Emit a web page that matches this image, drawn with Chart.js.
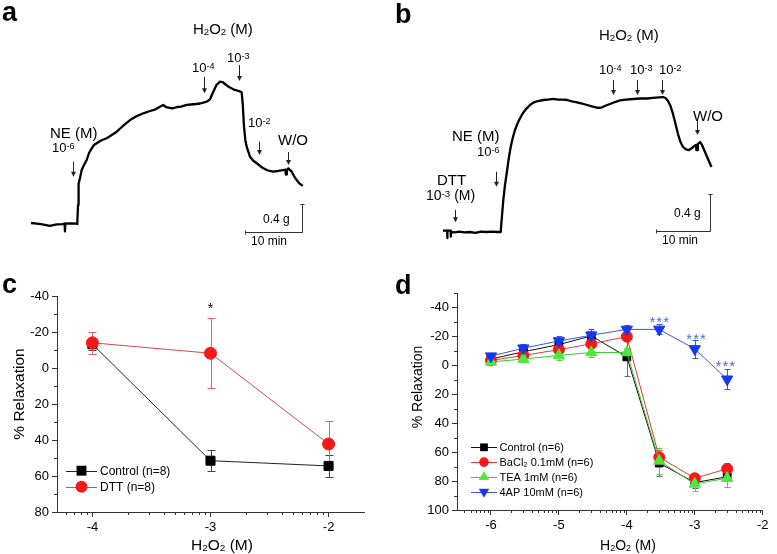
<!DOCTYPE html>
<html>
<head>
<meta charset="utf-8">
<title>H2O2 relaxation figure</title>
<script src="https://cdn.jsdelivr.net/npm/chart.js@4.4.1/dist/chart.umd.min.js"></script>
<style>
html,body{margin:0;padding:0;background:#fff;}
#fig{position:relative;width:777px;height:554px;overflow:hidden;background:#fff;font-family:"Liberation Sans",Arial,Helvetica,sans-serif;color:#000;}
canvas{position:absolute;display:block;}
.tx{position:absolute;white-space:nowrap;line-height:1;z-index:2;color:#000;}
.f15{font-size:15px}.f14{font-size:14px}.f13{font-size:13px}.f12{font-size:12px}.f155{font-size:15.5px}
.lbl{font-size:27px;font-weight:bold;}
.tx sup{font-size:0.7em;line-height:0;vertical-align:0.32em;}
.tx sub{font-size:0.64em;line-height:0;vertical-align:-0.14em;}
.rot{transform:translate(-50%,-50%) rotate(-90deg);}
.cen{transform:translateX(-50%);}
</style>
</head>
<body>
<div id="fig">
  <canvas id="ca" width="388" height="260" style="left:0;top:0"></canvas>
  <canvas id="cb" width="387" height="260" style="left:390px;top:0"></canvas>
  <canvas id="cc" width="388" height="294" style="left:0;top:260px"></canvas>
  <canvas id="cd" width="387" height="294" style="left:390px;top:260px"></canvas>

  <!-- panel a texts -->
  <div class="tx lbl" style="left:2px;top:-1px">a</div>
  <div class="tx f15" style="left:193px;top:21px">H<sub>2</sub>O<sub>2</sub> (M)</div>
  <div class="tx f13" style="left:192px;top:61px">10<sup>-4</sup></div>
  <div class="tx f13" style="left:227px;top:51px">10<sup>-3</sup></div>
  <div class="tx f13" style="left:248px;top:116px">10<sup>-2</sup></div>
  <div class="tx f15" style="left:50px;top:125px">NE (M)</div>
  <div class="tx f13" style="left:52px;top:141px">10<sup>-6</sup></div>
  <div class="tx f15" style="left:278px;top:132px">W/O</div>
  <div class="tx f12" style="left:263px;top:213px">0.4 g</div>
  <div class="tx f12" style="left:251px;top:235px">10 min</div>

  <!-- panel b texts -->
  <div class="tx lbl" style="left:395px;top:1px">b</div>
  <div class="tx f15" style="left:599px;top:27px">H<sub>2</sub>O<sub>2</sub> (M)</div>
  <div class="tx f13" style="left:599px;top:63px">10<sup>-4</sup></div>
  <div class="tx f13" style="left:630px;top:63px">10<sup>-3</sup></div>
  <div class="tx f13" style="left:659px;top:63px">10<sup>-2</sup></div>
  <div class="tx f15" style="left:693px;top:108px">W/O</div>
  <div class="tx f15" style="left:452px;top:128px">NE (M)</div>
  <div class="tx f13" style="left:477px;top:145px">10<sup>-6</sup></div>
  <div class="tx f15" style="left:437px;top:172px">DTT</div>
  <div class="tx f14" style="left:426px;top:188px">10<sup>-3</sup> (M)</div>
  <div class="tx f12" style="left:674px;top:207px">0.4 g</div>
  <div class="tx f12" style="left:662px;top:234px">10 min</div>

  <!-- panel c texts -->
  <div class="tx lbl" style="left:2px;top:271px">c</div>
  <div class="tx f155 rot" style="left:19px;top:394px">% Relaxation</div>
  <div class="tx f155 cen" style="left:222px;top:537px">H<sub>2</sub>O<sub>2</sub> (M)</div>

  <!-- panel d texts -->
  <div class="tx lbl" style="left:395px;top:272px">d</div>
  <div class="tx f14 rot" style="left:417px;top:387px">% Relaxation</div>
  <div class="tx f14 cen" style="left:628px;top:538px">H<sub>2</sub>O<sub>2</sub> (M)</div>
</div>

<script>
// ---------------- DATA ----------------
// Panel a: isometric force trace (time in min, force in g above baseline)
const traceATime = [0, 1.0, 2.0, 3.3, 4.5, 5.5, 5.9, 5.96, 6.02, 7.0, 8.05, 8.12, 8.25, 8.35, 8.6, 8.89, 9.3, 9.77, 10.18, 10.65, 11.05, 11.53, 12.28, 13.28, 14.04, 15.04, 16.14, 17.37, 18.42, 19.7, 20.88, 21.75, 22.63, 23.21, 23.68, 24.39, 24.96, 25.61, 26.32, 27.32, 28.07, 28.95, 29.65, 30.23, 30.88, 31.4, 31.98, 32.54, 33.16, 33.6, 34.04, 34.74, 35.49, 36.14, 36.67, 36.96, 37.14, 37.37, 37.6, 37.84, 38.42, 38.95, 39.6, 40.75, 41.58, 42.51, 43.33, 44.26, 44.65, 44.7, 44.75, 44.88, 44.93, 45.14, 45.74, 46.14, 46.61, 47.02, 47.67];
const traceAForce = [0, -0.01, -0.02, -0.04, -0.02, -0.015, -0.01, -0.12, -0.01, -0.005, -0.01, -0.014, 0.257, 0.557, 0.643, 0.757, 0.829, 0.9, 1.0, 1.067, 1.114, 1.139, 1.179, 1.21, 1.25, 1.304, 1.386, 1.471, 1.521, 1.567, 1.6, 1.621, 1.661, 1.686, 1.657, 1.643, 1.639, 1.657, 1.664, 1.686, 1.693, 1.7, 1.707, 1.719, 1.736, 1.767, 1.876, 1.971, 2.019, 2.014, 1.986, 1.943, 1.91, 1.893, 1.879, 1.867, 1.71, 1.376, 1.186, 1.09, 0.947, 0.893, 0.853, 0.781, 0.75, 0.733, 0.743, 0.757, 0.757, 0.693, 0.757, 0.693, 0.757, 0.781, 0.733, 0.671, 0.614, 0.571, 0.529];
// Panel a additions: NE 1e-6, H2O2 1e-4, 1e-3, 1e-2, washout (time, arrow top/bottom in g)
const eventATime = [7.32, 30.35, 36.44, 40.05, 45.03];
const eventATop = [0.876, 2.09, 2.257, 1.161, 1.014];
const eventABottom = [0.661, 1.853, 2.029, 0.971, 0.829];

// Panel b: DTT pre-treated trace
const traceBTime = [0, 0.78, 0.80, 0.83, 1.41, 1.43, 1.46, 2.2, 3.0, 4.0, 5.0, 6.0, 7.0, 8.0, 9.0, 10.0, 10.69, 10.83, 11.17, 11.48, 11.8, 12.13, 12.54, 12.96, 13.33, 13.8, 14.26, 14.81, 15.5, 16.11, 16.72, 17.59, 18.57, 19.44, 20.43, 21.3, 22.22, 22.96, 23.89, 24.81, 25.74, 26.67, 27.59, 28.33, 28.89, 29.44, 30.19, 30.93, 31.85, 32.78, 33.89, 35.19, 36.48, 37.78, 38.89, 40.0, 40.74, 41.2, 41.67, 42.13, 42.59, 43.06, 43.52, 43.98, 44.44, 45.0, 45.56, 46.11, 46.57, 46.85, 46.93, 47.0, 47.13, 47.2, 47.59, 47.96, 48.52, 49.07, 49.72];
const traceBForce = [0.014, 0.014, -0.065, 0.014, 0.014, -0.051, 0.0, -0.005, 0.005, -0.005, 0.0, -0.01, 0.005, 0.0, 0.005, 0.0, 0.0, 0.108, 0.346, 0.508, 0.635, 0.778, 0.922, 1.027, 1.103, 1.173, 1.229, 1.286, 1.337, 1.373, 1.398, 1.416, 1.427, 1.432, 1.438, 1.432, 1.43, 1.427, 1.411, 1.4, 1.389, 1.373, 1.357, 1.346, 1.341, 1.348, 1.368, 1.384, 1.405, 1.422, 1.432, 1.438, 1.443, 1.443, 1.449, 1.456, 1.459, 1.449, 1.416, 1.362, 1.276, 1.168, 1.059, 0.973, 0.919, 0.892, 0.886, 0.908, 0.93, 0.941, 0.886, 0.941, 0.886, 0.951, 0.973, 0.941, 0.865, 0.789, 0.703];
// Panel b additions: DTT 1e-3, NE 1e-6, H2O2 1e-4, 1e-3, 1e-2, washout
const eventBTime = [2.22, 9.81, 31.48, 35.93, 40.56, 47.04];
const eventBTop = [0.238, 0.652, 1.643, 1.643, 1.643, 1.211];
const eventBBottom = [0.105, 0.490, 1.481, 1.481, 1.481, 1.049];

// Scale bars: 10 min and 0.4 g
const scaleBarMin = 10;
const scaleBarG = 0.4;

// Panel c: % relaxation vs log[H2O2]
const cDoses = [-4, -3, -2];
const cControl = [-13.2, 51.5, 54.4];
const cControlErr = [3, 5.8, 6.2];
const cDTT = [-14, -8.2, 42.2];
const cDTTErr = [6.1, 19.5, 12.5];
const cXTicks = [-4, -3, -2];
const cYTicks = [-40, -20, 0, 20, 40, 60, 80];
const cYMinor = [-30, -10, 10, 30, 50, 70];
const cStarX = [-3];
const cStarY = [-35];

// Panel d: K+ channel blockers
const dDoses = [-6, -5.523, -5, -4.523, -4, -3.523, -3, -2.523];
const dControl = [-4.5, -9.5, -14.5, -20.5, -6, 67.5, 81, 77];
const dControlErr = [2, 2.5, 3, 3, 13.5, 9, 4, 7];
const dBaCl2 = [-3.5, -7, -11, -15, -20, 63.5, 78, 71.5];
const dBaCl2Err = [1.5, 2, 2.5, 3, 3, 5, 3, 4];
const dTEA = [-2.5, -4.5, -7, -9, -9, 66, 82, 78];
const dTEAErr = [1.5, 2, 3, 3, 3, 9, 5, 6];
const d4AP = [-6.5, -12, -17, -21, -25, -25, -11.5, 9.5];
const d4APErr = [2.5, 3, 3.5, 4, 3, 3.5, 6.5, 7];
const dXTicks = [-6, -5, -4, -3, -2];
const dYTicks = [-40, -20, 0, 20, 40, 60, 80, 100];
const dYMinor = [-50, -30, -10, 10, 30, 50, 70, 90];
const dStarX = [-3.523, -2.98, -2.55];
const dStarY = [-33, -20.8, -2.3];

// ---------------- HELPERS ----------------
const FONT_FAMILY = '"Liberation Sans", Arial, Helvetica, sans-serif';
Chart.defaults.font.family = FONT_FAMILY;
Chart.defaults.color = '#000';
Chart.defaults.animation = false;

function pts(xs, ys) { return xs.map((x, i) => ({ x: x, y: ys[i] })); }

function logMinor(min, max) {
  const out = [];
  for (let n = Math.floor(min) - 1; n <= Math.ceil(max); n++) {
    for (let k = 2; k <= 9; k++) {
      const v = n + Math.log10(k);
      if (v >= min && v <= max) out.push(v);
    }
  }
  return out;
}

function drawMarker(ctx, style, x, y, r, fill, rotDeg) {
  ctx.save();
  ctx.fillStyle = fill;
  ctx.beginPath();
  if (style === 'rect') {
    const s = r * Math.SQRT1_2;
    ctx.rect(x - s, y - s, 2 * s, 2 * s);
  } else if (style === 'circle') {
    ctx.arc(x, y, r, 0, Math.PI * 2);
  } else if (style === 'triangle') {
    let a = (rotDeg || 0) * Math.PI / 180;
    for (let i = 0; i < 3; i++) {
      const px = x + Math.sin(a) * r, py = y - Math.cos(a) * r;
      if (i === 0) ctx.moveTo(px, py); else ctx.lineTo(px, py);
      a += 2 * Math.PI / 3;
    }
    ctx.closePath();
  }
  ctx.fill();
  ctx.restore();
}

function errorBarPlugin(cap) {
  return {
    id: 'errorBars',
    beforeDatasetsDraw(chart) {
      const ctx = chart.ctx, ys = chart.scales.y;
      const metas = chart.getSortedVisibleDatasetMetas().slice().reverse();
      metas.forEach(meta => {
        const ds = chart.data.datasets[meta.index];
        if (!ds.errors) return;
        ctx.save();
        ctx.strokeStyle = ds.errorColor;
        ctx.lineWidth = 1;
        meta.data.forEach((pt, j) => {
          const v = ds.data[j].y, e = ds.errors[j];
          const y1 = ys.getPixelForValue(v - e), y2 = ys.getPixelForValue(v + e);
          const x = Math.round(pt.x) + 0.5;
          ctx.beginPath();
          ctx.moveTo(x, y1); ctx.lineTo(x, y2);
          ctx.moveTo(x - cap, Math.round(y1) + 0.5); ctx.lineTo(x + cap, Math.round(y1) + 0.5);
          ctx.moveTo(x - cap, Math.round(y2) + 0.5); ctx.lineTo(x + cap, Math.round(y2) + 0.5);
          ctx.stroke();
        });
        ctx.restore();
      });
    }
  };
}

function minorTickPlugin(xMinor, yMinor, len, color) {
  return {
    id: 'minorTicks',
    afterDraw(chart) {
      const ctx = chart.ctx, a = chart.chartArea, xs = chart.scales.x, ys = chart.scales.y;
      ctx.save();
      ctx.strokeStyle = color; ctx.lineWidth = 1;
      ctx.beginPath();
      xMinor.forEach(v => {
        const px = Math.round(xs.getPixelForValue(v)) + 0.5;
        ctx.moveTo(px, a.bottom); ctx.lineTo(px, a.bottom + len);
      });
      yMinor.forEach(v => {
        const py = Math.round(ys.getPixelForValue(v)) + 0.5;
        ctx.moveTo(a.left, py); ctx.lineTo(a.left - len, py);
      });
      ctx.stroke();
      ctx.restore();
    }
  };
}

function legendPlugin(cfg) {
  return {
    id: 'insideLegend',
    afterDraw(chart) {
      const ctx = chart.ctx;
      ctx.save();
      chart.data.datasets.forEach((ds, i) => {
        const y = cfg.y + i * cfg.step;
        ctx.strokeStyle = ds.borderColor; ctx.lineWidth = 1;
        ctx.beginPath();
        ctx.moveTo(cfg.x, Math.round(y) + 0.5); ctx.lineTo(cfg.x + cfg.len, Math.round(y) + 0.5);
        ctx.stroke();
        drawMarker(ctx, ds.pointStyle, cfg.x + cfg.len / 2, y, cfg.radius[i], ds.pointBackgroundColor, ds.pointRotation || 0);
        ctx.fillStyle = '#000';
        ctx.font = cfg.font;
        ctx.textBaseline = 'middle';
        ctx.textAlign = 'left';
        ctx.fillText(ds.label, cfg.x + cfg.len + cfg.gap, y + 1);
      });
      ctx.restore();
    }
  };
}

function starPlugin(xs, ys, text, color, size, spacing) {
  return {
    id: 'stars',
    afterDraw(chart) {
      const ctx = chart.ctx, sx = chart.scales.x, sy = chart.scales.y;
      ctx.save();
      ctx.fillStyle = color;
      ctx.font = size + 'px ' + FONT_FAMILY;
      ctx.textAlign = 'center';
      ctx.textBaseline = 'alphabetic';
      if ('letterSpacing' in ctx) ctx.letterSpacing = spacing + 'px';
      xs.forEach((x, i) => {
        ctx.fillText(text, sx.getPixelForValue(x) + spacing / 2, sy.getPixelForValue(ys[i]) + size * 0.58);
      });
      ctx.restore();
    }
  };
}

function traceAnnoPlugin(evT, evTop, evBot, barT, barF) {
  return {
    id: 'traceAnno',
    afterDatasetsDraw(chart) {
      const ctx = chart.ctx, xs = chart.scales.x, ys = chart.scales.y;
      ctx.save();
      ctx.strokeStyle = '#222'; ctx.fillStyle = '#222'; ctx.lineWidth = 1;
      evT.forEach((t, i) => {
        const x = Math.round(xs.getPixelForValue(t)) + 0.5;
        const y1 = ys.getPixelForValue(evTop[i]), y2 = ys.getPixelForValue(evBot[i]);
        ctx.beginPath(); ctx.moveTo(x, y1); ctx.lineTo(x, y2 - 3); ctx.stroke();
        ctx.beginPath(); ctx.moveTo(x - 2.5, y2 - 5); ctx.lineTo(x + 2.5, y2 - 5); ctx.lineTo(x, y2); ctx.closePath(); ctx.fill();
      });
      // scale bar (10 min horizontal, 0.4 g vertical)
      const x0 = Math.round(xs.getPixelForValue(barT)) + 0.5;
      const x1 = Math.round(xs.getPixelForValue(barT + scaleBarMin)) + 0.5;
      const y0 = Math.round(ys.getPixelForValue(barF)) + 0.5;
      const y1 = Math.round(ys.getPixelForValue(barF + scaleBarG)) + 0.5;
      ctx.strokeStyle = '#333';
      ctx.beginPath();
      ctx.moveTo(x0, y0); ctx.lineTo(x1, y0);
      ctx.moveTo(x1, y0); ctx.lineTo(x1, y1);
      ctx.moveTo(x0, y0 - 2); ctx.lineTo(x0, y0 + 2);
      ctx.moveTo(x1 - 2, y1); ctx.lineTo(x1 + 2, y1);
      ctx.stroke();
      ctx.restore();
    }
  };
}

function traceChart(id, times, forces, xr, yr, anno) {
  return new Chart(document.getElementById(id), {
    type: 'line',
    data: { datasets: [{ data: pts(times, forces), borderColor: '#000', borderWidth: 2.3, pointRadius: 0, tension: 0, fill: false, borderJoinStyle: 'round' }] },
    options: {
      responsive: false, animation: false, events: [],
      layout: { padding: 0 },
      plugins: { legend: { display: false }, tooltip: { enabled: false } },
      scales: {
        x: { type: 'linear', display: false, min: xr[0], max: xr[1] },
        y: { type: 'linear', display: false, min: yr[0], max: yr[1] }
      }
    },
    plugins: [anno]
  });
}

// ---------------- PANELS a, b ----------------
traceChart('ca', traceATime, traceAForce, [-5.4386, 62.632], [-0.5286, 3.1857],
  traceAnnoPlugin(eventATime, eventATop, eventABottom, 37.54, -0.129));
traceChart('cb', traceBTime, traceBForce, [-9.815, 61.852], [-0.3027, 2.508],
  traceAnnoPlugin(eventBTime, eventBTop, eventBBottom, 39.44, 0.011));

// ---------------- axis helper ----------------
function axisX(min, max, ticks, h) {
  return {
    type: 'linear', min: min, max: max,
    afterBuildTicks: s => { s.ticks = ticks.map(v => ({ value: v })); },
    afterFit: s => { s.height = h; },
    grid: { display: true, drawOnChartArea: false, drawTicks: true, tickLength: 5, tickColor: '#333' },
    border: { display: true, color: '#333', width: 1 },
    ticks: { font: { size: 13 }, color: '#000', padding: 3, maxRotation: 0, autoSkip: false, callback: v => String(v) }
  };
}
function axisY(min, max, ticks, w) {
  return {
    type: 'linear', min: min, max: max, reverse: true,
    afterBuildTicks: s => { s.ticks = ticks.map(v => ({ value: v })); },
    afterFit: s => { s.width = w; },
    grid: { display: true, drawOnChartArea: false, drawTicks: true, tickLength: 5, tickColor: '#333' },
    border: { display: true, color: '#333', width: 1 },
    ticks: { font: { size: 13 }, color: '#000', padding: 3, autoSkip: false, callback: v => String(v) }
  };
}

// ---------------- PANEL c ----------------
new Chart(document.getElementById('cc'), {
  type: 'line',
  data: {
    datasets: [
      { label: 'Control (n=8)', data: pts(cDoses, cControl), errors: cControlErr, errorColor: '#444',
        borderColor: '#222', borderWidth: 1, pointStyle: 'rect', pointRadius: 6.4,
        pointBackgroundColor: '#000', pointBorderColor: '#000', pointBorderWidth: 1, tension: 0, order: 1 },
      { label: 'DTT (n=8)', data: pts(cDoses, cDTT), errors: cDTTErr, errorColor: '#e06464',
        borderColor: '#dc4646', borderWidth: 1, pointStyle: 'circle', pointRadius: 6,
        pointBackgroundColor: '#f41818', pointBorderColor: '#f41818', pointBorderWidth: 1, tension: 0, order: 0 }
    ]
  },
  options: {
    responsive: false, animation: false, events: [],
    layout: { padding: { top: 36, right: 24, left: 0, bottom: 0 } },
    plugins: { legend: { display: false }, tooltip: { enabled: false } },
    scales: { x: axisX(-4.3, -1.7, cXTicks, 42), y: axisY(-40, 80, cYTicks, 57) }
  },
  plugins: [
    errorBarPlugin(4),
    minorTickPlugin(logMinor(-4.3, -1.7), cYMinor, 3, '#333'),
    legendPlugin({ x: 66, y: 210.7, step: 16, len: 31, gap: 3, radius: [7, 6], font: '12px ' + FONT_FAMILY }),
    starPlugin(cStarX, cStarY, '*', '#000', 14, 0)
  ]
});

// ---------------- PANEL d ----------------
new Chart(document.getElementById('cd'), {
  type: 'line',
  data: {
    datasets: [
      { label: 'Control (n=6)', data: pts(dDoses, dControl), errors: dControlErr, errorColor: '#666',
        borderColor: '#111', borderWidth: 1, pointStyle: 'rect', pointRadius: 5.5,
        pointBackgroundColor: '#000', pointBorderColor: '#000', pointBorderWidth: 1, tension: 0, order: 3 },
      { label: 'BaCl\u2082 0.1mM (n=6)', data: pts(dDoses, dBaCl2), errors: dBaCl2Err, errorColor: '#e05a5a',
        borderColor: '#e03a3a', borderWidth: 1, pointStyle: 'circle', pointRadius: 5.5,
        pointBackgroundColor: '#f41818', pointBorderColor: '#f41818', pointBorderWidth: 1, tension: 0, order: 2 },
      { label: 'TEA 1mM (n=6)', data: pts(dDoses, dTEA), errors: dTEAErr, errorColor: '#5ad05a',
        borderColor: '#38c838', borderWidth: 1, pointStyle: 'triangle', pointRadius: 6.5,
        pointBackgroundColor: '#4ee83c', pointBorderColor: '#4ee83c', pointBorderWidth: 1, tension: 0, order: 1 },
      { label: '4AP 10mM (n=6)', data: pts(dDoses, d4AP), errors: d4APErr, errorColor: '#3a5ad8',
        borderColor: '#3a5ad8', borderWidth: 1, pointStyle: 'triangle', pointRotation: 180, pointRadius: 6.5,
        pointBackgroundColor: '#1438f0', pointBorderColor: '#1438f0', pointBorderWidth: 1, tension: 0, order: 0 }
    ]
  },
  options: {
    responsive: false, animation: false, events: [],
    layout: { padding: { top: 33.3, right: 14.3, left: 0, bottom: 0 } },
    plugins: { legend: { display: false }, tooltip: { enabled: false } },
    scales: { x: axisX(-6.5, -2, dXTicks, 44), y: axisY(-50, 100, dYTicks, 67) }
  },
  plugins: [
    errorBarPlugin(3),
    minorTickPlugin(logMinor(-6.5, -2), dYMinor, 3, '#333'),
    legendPlugin({ x: 81, y: 187.3, step: 14.8, len: 26, gap: 2.5, radius: [5.5, 4.8, 6, 6], font: '11px ' + FONT_FAMILY }),
    starPlugin(dStarX, dStarY, '***', '#4b6fe0', 15, 1)
  ]
});
</script>
</body>
</html>
